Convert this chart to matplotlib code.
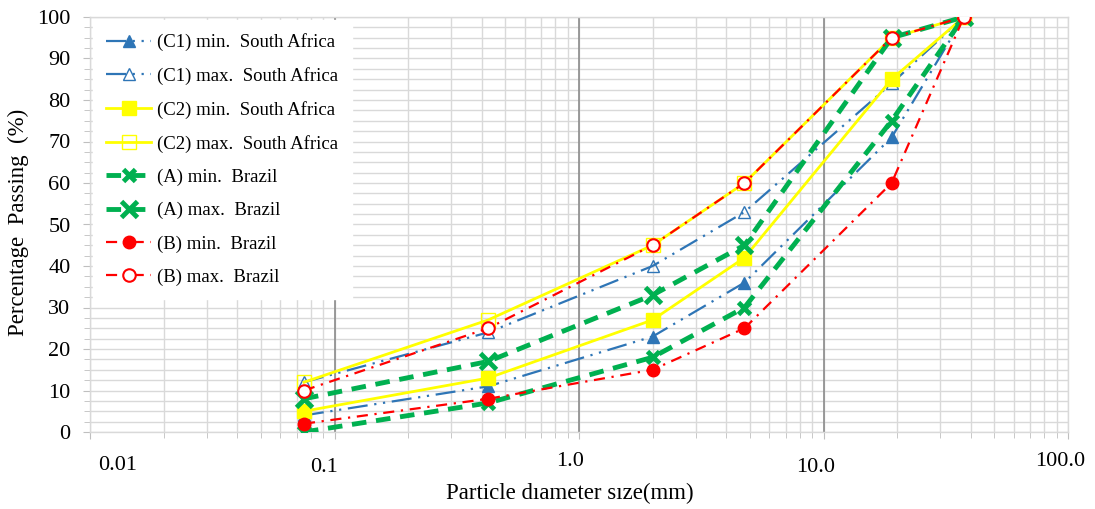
import numpy as np
import matplotlib
matplotlib.use("Agg")
import matplotlib.pyplot as plt
import matplotlib.transforms as mtransforms
from matplotlib.ticker import FixedLocator, NullFormatter

# =========================================================
# DATA
# =========================================================

SIZES_MM = [0.075, 0.425, 2.0, 4.75, 19.0, 37.5]

C1_MIN = [4, 11, 23, 36, 71, 100]
C1_MAX = [12, 24, 40, 53, 84, 100]
C2_MIN = [5, 13, 27, 42, 85, 100]
C2_MAX = [12, 27, 45, 60, 95, 100]
A_MIN  = [0, 7, 18, 30, 75, 100]
A_MAX  = [8, 17, 33, 45, 95, 100]
B_MIN  = [2, 8, 15, 25, 60, 100]
B_MAX  = [10, 25, 45, 60, 95, 100]

LABELS = [
    "(C1) min.  South Africa", "(C1) max.  South Africa",
    "(C2) min.  South Africa", "(C2) max.  South Africa",
    "(A) min.  Brazil", "(A) max.  Brazil",
    "(B) min.  Brazil", "(B) max.  Brazil",
]

XTICKS       = [0.01, 0.1, 1.0, 10.0, 100.0]
XTICK_LABELS = ["0.01", "0.1", "1.0", "10.0", "100.0"]

# =========================================================
# STYLE
# =========================================================

BLUE   = "#2E75B6"
YELLOW = "#FFFF00"
GREEN  = "#00B050"
RED    = "#FF0000"
GRID   = "#D9D9D9"
DARK   = "#8C8C8C"

plt.rcParams["font.family"] = ["Liberation Serif", "DejaVu Serif"]

C1_DASH = (0, (9, 3, 1, 3, 1, 3))
B_DASH  = (0, (5, 3, 1, 3))
A_DASH  = (0, (3, 2))

series = [
    (C1_MIN, dict(color=BLUE, ls=C1_DASH, lw=1.6, marker="^", ms=8, mfc=BLUE, mec=BLUE)),
    (C1_MAX, dict(color=BLUE, ls=C1_DASH, lw=1.6, marker="^", ms=8, mfc="none", mec=BLUE)),
    (C2_MIN, dict(color=YELLOW, ls="-", lw=2.0, marker="s", ms=10, mfc=YELLOW, mec=YELLOW)),
    (C2_MAX, dict(color=YELLOW, ls="-", lw=2.0, marker="s", ms=10, mfc="none", mec=YELLOW)),
    (A_MIN,  dict(color=GREEN, ls=A_DASH, lw=3.5, marker="x", ms=9, mew=3.5, mec=GREEN)),
    (A_MAX,  dict(color=GREEN, ls=A_DASH, lw=3.5, marker="x", ms=11, mew=3.5, mec=GREEN)),
    (B_MIN,  dict(color=RED, ls=B_DASH, lw=1.6, marker="o", ms=9, mfc=RED, mec=RED)),
    (B_MAX,  dict(color=RED, ls=B_DASH, lw=1.6, marker="o", ms=9, mfc="white", mec=RED, mew=1.5)),
]

# =========================================================
# PLOT
# =========================================================

fig = plt.figure(figsize=(10.95, 5.09), dpi=100)
ax = fig.add_axes([90 / 1095, 77 / 509, 978 / 1095, 415 / 509])

for (values, kw), label in zip(series, LABELS):
    ax.plot(SIZES_MM, values, label=label, zorder=3, **kw)

ax.set_xscale("log")
ax.set_xlim(0.01, 100)
ax.set_ylim(0, 100)

# grid
minor_x = [m * 10.0 ** e for e in range(-2, 2) for m in range(2, 10)]
ax.xaxis.set_major_locator(FixedLocator(XTICKS))
ax.xaxis.set_minor_locator(FixedLocator(minor_x))
ax.xaxis.set_major_formatter(NullFormatter())
ax.xaxis.set_minor_formatter(NullFormatter())
ax.set_yticks(np.arange(0, 101, 10))
ax.set_yticks(np.arange(0, 101, 2.5), minor=True)

ax.grid(which="both", color=GRID, lw=1.0, zorder=0)
for xv in [0.1, 1.0, 10.0]:
    ax.axvline(xv, color=DARK, lw=1.2, zorder=1)
ax.set_axisbelow(True)

for sp in ax.spines.values():
    sp.set_color(GRID)
    sp.set_linewidth(1.0)

ax.tick_params(axis="both", which="both", color="#BFBFBF", direction="out")
ax.tick_params(axis="both", which="major", length=5)
ax.tick_params(axis="both", which="minor", length=4)
ax.tick_params(axis="y", labelsize=16, pad=9)

# staggered x tick labels like the source
offsets = [(28, 34), (-10, 36), (-9, 29), (-8, 36), (-8, 29)]
for xv, txt, (dx, dy) in zip(XTICKS, XTICK_LABELS, offsets):
    tr = mtransforms.blended_transform_factory(ax.transData, ax.transAxes)
    tr = tr + mtransforms.ScaledTranslation(dx / 100, -dy / 100, fig.dpi_scale_trans)
    ax.text(xv, 0, txt, transform=tr, ha="center", va="center", fontsize=16)

fig.text(570 / 1095, 1 - 493 / 509, "Particle d\u0131ameter s\u0131ze(mm)",
         ha="center", va="center", fontsize=16.5)
fig.text(18 / 1095, 1 - 222 / 509, "Percentage  Passing  (%)",
         ha="center", va="center", rotation=90, fontsize=16.5)

leg = ax.legend(loc="upper left", fontsize=13.5, frameon=True, fancybox=False,
                edgecolor="white", framealpha=1.0, handlelength=2.4,
                handletextpad=0.3, labelspacing=0.85, borderaxespad=0.15,
                borderpad=0.72)
leg.set_zorder(5)

fig.savefig("out.png", dpi=100)
